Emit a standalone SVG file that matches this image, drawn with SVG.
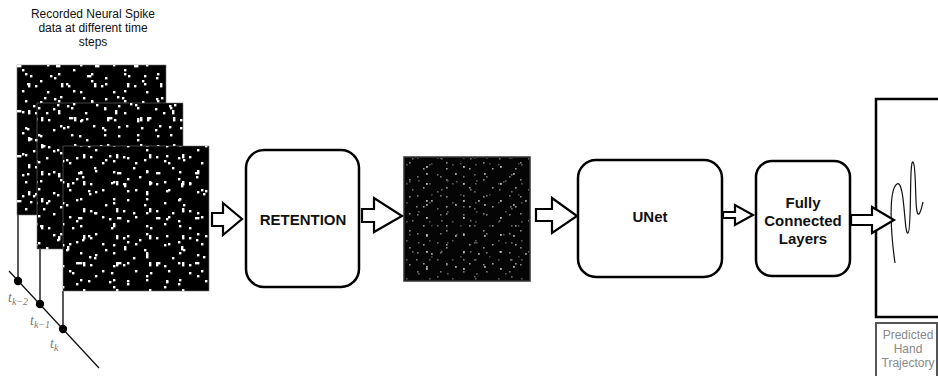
<svg xmlns="http://www.w3.org/2000/svg" width="938" height="376" viewBox="0 0 938 376">
  <style>
    .cap { font-family: "Liberation Sans", Arial, sans-serif; font-size: 12px; fill: #111; text-anchor: middle; }
    .lbl { font-family: "Liberation Sans", Arial, sans-serif; font-size: 15px; font-weight: bold; fill: #111; text-anchor: middle; }
    .note { font-family: "Liberation Sans", Arial, sans-serif; font-size: 12px; fill: #888; text-anchor: middle; }
    .tk { font-family: "Liberation Serif", "Times New Roman", serif; font-style: italic; font-size: 14px; fill: #777; }
    .tk tspan.sub { font-size: 10px; }
    .box { fill: #fff; stroke: #000; stroke-width: 2.5; }
    .arrow { fill: #fff; stroke: #000; stroke-width: 2.2; stroke-linejoin: miter; }
    .frame { fill: #000; stroke: #777; stroke-width: 0.6; }
    .stem { stroke: #222; stroke-width: 1.5; fill: none; }
  </style>
  <defs>
    <!-- overlapping spike tiles with coprime periods give an irregular raster -->
    <pattern id="sA" width="33" height="27" patternUnits="userSpaceOnUse">
      <rect x="2" y="4" width="2.4" height="2.4" fill="#fff"/>
      <rect x="14" y="10" width="2.4" height="2.4" fill="#fff"/>
      <rect x="25" y="19" width="2.4" height="2.4" fill="#fff"/>
      <rect x="28" y="2" width="2.4" height="4.4" fill="#fff"/>
    </pattern>
    <pattern id="sB" width="39" height="45" patternUnits="userSpaceOnUse">
      <rect x="5" y="7" width="2.4" height="2.4" fill="#fff"/>
      <rect x="33" y="15" width="2.4" height="2.4" fill="#fff"/>
      <rect x="11" y="30" width="2.4" height="2.4" fill="#fff"/>
      <rect x="27" y="38" width="2.4" height="2.4" fill="#fff"/>
      <rect x="17" y="20" width="4.4" height="2.4" fill="#fff"/>
    </pattern>
    <pattern id="sC" width="51" height="21" patternUnits="userSpaceOnUse">
      <rect x="3" y="14" width="2.4" height="2.4" fill="#fff"/>
      <rect x="22" y="6" width="2.4" height="2.4" fill="#fff"/>
      <rect x="40" y="17" width="2.4" height="2.4" fill="#fff"/>
    </pattern>
    <pattern id="sD" width="57" height="63" patternUnits="userSpaceOnUse">
      <rect x="10" y="50" width="2.4" height="2.4" fill="#fff"/>
      <rect x="30" y="12" width="2.4" height="2.4" fill="#fff"/>
      <rect x="45" y="40" width="2.4" height="4.4" fill="#fff"/>
      <rect x="3" y="33" width="2.4" height="2.4" fill="#fff"/>
    </pattern>
    <!-- dim activity map tiles -->
    <pattern id="rA" width="23" height="19" patternUnits="userSpaceOnUse">
      <rect x="3" y="5" width="1.6" height="1.6" fill="#777"/>
      <rect x="15" y="12" width="1.6" height="1.6" fill="#555"/>
      <rect x="9" y="16" width="1.6" height="1.6" fill="#999"/>
    </pattern>
    <pattern id="rB" width="29" height="31" patternUnits="userSpaceOnUse">
      <rect x="6" y="3" width="1.6" height="1.6" fill="#666"/>
      <rect x="20" y="18" width="1.8" height="1.8" fill="#aaa"/>
      <rect x="12" y="25" width="1.6" height="1.6" fill="#555"/>
      <rect x="25" y="8" width="1.6" height="1.6" fill="#444"/>
    </pattern>
    <pattern id="rC" width="37" height="17" patternUnits="userSpaceOnUse">
      <rect x="2" y="9" width="1.6" height="1.6" fill="#888"/>
      <rect x="30" y="4" width="1.6" height="1.6" fill="#666"/>
      <rect x="19" y="13" width="1.8" height="1.8" fill="#bbb"/>
    </pattern>
    <pattern id="rD" width="47" height="53" patternUnits="userSpaceOnUse">
      <rect x="8" y="41" width="1.8" height="1.8" fill="#999"/>
      <rect x="33" y="22" width="1.6" height="1.6" fill="#555"/>
      <rect x="40" y="47" width="1.6" height="1.6" fill="#777"/>
    </pattern>
  </defs>

  <rect width="938" height="376" fill="#fff"/>

  <g id="spike-data">
    <text class="cap" x="93" y="18">Recorded Neural Spike</text>
    <text class="cap" x="93" y="32">data at different time</text>
    <text class="cap" x="93" y="46">steps</text>

    <!-- time axis with stems -->
    <line x1="9" y1="271" x2="99" y2="368" stroke="#111" stroke-width="1.3"/>
    <line class="stem" x1="18" y1="215" x2="18" y2="281"/>
    <line class="stem" x1="40" y1="249" x2="40" y2="304"/>
    <line class="stem" x1="63" y1="291" x2="63" y2="329"/>
    <circle cx="18" cy="281" r="4.2" fill="#000"/>
    <circle cx="40" cy="304" r="4.2" fill="#000"/>
    <circle cx="63" cy="329" r="4.2" fill="#000"/>
    <text class="tk" x="8" y="302">t<tspan class="sub" dy="3">k−2</tspan></text>
    <text class="tk" x="30" y="325">t<tspan class="sub" dy="3">k−1</tspan></text>
    <text class="tk" x="50" y="348">t<tspan class="sub" dy="3">k</tspan></text>

    <!-- spike frames t(k-2), t(k-1), t(k) -->
    <g>
      <rect class="frame" x="17" y="65" width="149" height="150"/>
      <rect x="17" y="65" width="149" height="150" fill="url(#sA)"/>
      <rect x="17" y="65" width="149" height="150" fill="url(#sB)"/>
      <rect x="17" y="65" width="149" height="150" fill="url(#sC)"/>
      <rect x="17" y="65" width="149" height="150" fill="url(#sD)"/>
    </g>
    <g transform="translate(13,7)">
      <rect class="frame" x="24" y="96" width="146" height="146"/>
      <rect x="24" y="96" width="146" height="146" fill="url(#sA)"/>
      <rect x="24" y="96" width="146" height="146" fill="url(#sB)"/>
      <rect x="24" y="96" width="146" height="146" fill="url(#sC)"/>
      <rect x="24" y="96" width="146" height="146" fill="url(#sD)"/>
    </g>
    <g transform="translate(22,17)">
      <rect class="frame" x="41" y="129" width="146" height="145"/>
      <rect x="41" y="129" width="146" height="145" fill="url(#sA)"/>
      <rect x="41" y="129" width="146" height="145" fill="url(#sB)"/>
      <rect x="41" y="129" width="146" height="145" fill="url(#sC)"/>
      <rect x="41" y="129" width="146" height="145" fill="url(#sD)"/>
    </g>
  </g>

  <g id="retention">
    <rect class="box" x="246" y="150" width="113" height="137" rx="18"/>
    <text class="lbl" x="303" y="225">RETENTION</text>
  </g>

  <g id="retained-map">
    <rect x="404" y="157" width="126" height="124" fill="#050505" stroke="#333" stroke-width="1.5"/>
    <rect x="405" y="158" width="124" height="122" fill="url(#rA)"/>
    <rect x="405" y="158" width="124" height="122" fill="url(#rB)"/>
    <rect x="405" y="158" width="124" height="122" fill="url(#rC)"/>
    <rect x="405" y="158" width="124" height="122" fill="url(#rD)"/>
  </g>

  <g id="unet">
    <rect class="box" x="578" y="160" width="144" height="117" rx="18"/>
    <text class="lbl" x="650" y="222">UNet</text>
  </g>

  <g id="fc-layers">
    <rect class="box" x="756" y="161" width="94" height="115" rx="16"/>
    <text class="lbl" x="803" y="208">Fully</text>
    <text class="lbl" x="803" y="226">Connected</text>
    <text class="lbl" x="803" y="244">Layers</text>
  </g>

  <g id="trajectory">
    <rect x="876" y="99" width="80" height="218" fill="#fff" stroke="#000" stroke-width="2.5"/>
    <path d="M895,263 C891,235 888,190 897,184 C905,179 904,236 908,233 C912,231 909,159 913,162 C917,165 914,218 919,214 C921,212 922,206 923,202" fill="none" stroke="#111" stroke-width="1.2"/>
  </g>

  <g id="trajectory-label">
    <rect x="876" y="323" width="61" height="54" fill="#fff" stroke="#555" stroke-width="2"/>
    <text class="note" x="908" y="339">Predicted</text>
    <text class="note" x="908" y="353">Hand</text>
    <text class="note" x="908" y="367">Trajectory</text>
  </g>

  <g id="connectors">
    <polygon class="arrow" points="212,213 223,213 223,203 242,219 223,235 223,226 212,226"/>
    <polygon class="arrow" points="362,209 374,209 374,198 402,216 374,232 374,222 362,222"/>
    <polygon class="arrow" points="536,209 552,209 552,198 577,216 552,233 552,221 536,221"/>
    <polygon class="arrow" points="723,212 735,212 735,205 753,215 735,225 735,218 723,218"/>
    <polygon class="arrow" points="851,215 872,215 872,207 894,220 872,233 872,225 851,225"/>
  </g>
</svg>
